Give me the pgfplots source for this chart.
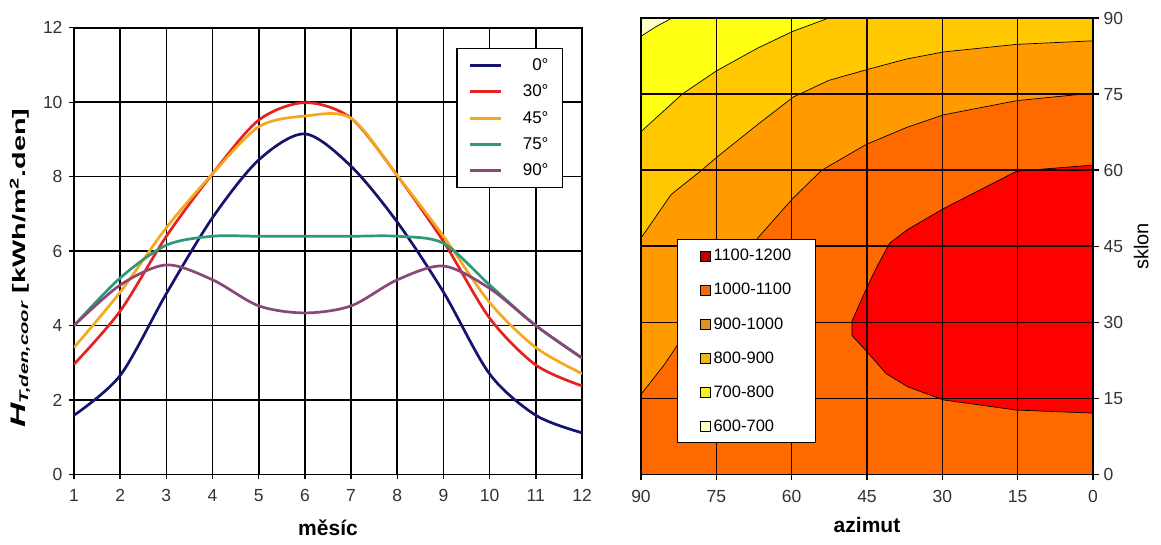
\documentclass[border=0pt]{standalone}
\usepackage{fontspec}
\setmainfont{Liberation Sans}
\usepackage{graphicx}
\usepackage{pgfplots}
\pgfplotsset{compat=1.18}

\definecolor{c0}{HTML}{14146E}
\definecolor{c30}{HTML}{E42320}
\definecolor{c45}{HTML}{F4A81E}
\definecolor{c75}{HTML}{2E9878}
\definecolor{c90}{HTML}{8A4878}
% contour bands
\definecolor{bsix}{HTML}{FFFFC8}
\definecolor{bseven}{HTML}{FFFF14}
\definecolor{beight}{HTML}{FFC800}
\definecolor{bnine}{HTML}{FF9A00}
\definecolor{bten}{HTML}{FF6A00}
\definecolor{beleven}{HTML}{FF0000}

\begin{document}
\begin{tikzpicture}
\path[use as bounding box] (0,0) rectangle (1161pt,545pt);

% ---- left: monthly irradiation
\begin{axis}[
    at={(74pt,70.5pt)}, anchor=south west,
    scale only axis, width=508pt, height=446.7pt,
    xmin=1, xmax=12, ymin=0, ymax=12,
    xtick={1,...,12}, ytick={0,2,...,12},
    grid=major, major grid style={black, line width=1.6pt},
    axis line style={black, line width=1.6pt},
    tick align=outside, major tick length=5pt,
    tick style={black, line width=1.4pt},
    xtick pos=bottom, ytick pos=left,
    /pgf/number format/assume math mode=true,
    tick label style={font=\fontsize{17.5}{19}\selectfont, text=black!80},
    xticklabel style={yshift=-6pt},
    yticklabel style={xshift=-3pt},
    xlabel={měsíc},
    xlabel style={yshift=-12pt, font=\fontsize{21}{23}\selectfont\bfseries},
    ylabel={\scalebox{1.6}[1]{{\fontsize{21}{22}\selectfont\itshape H}\textsubscript{\itshape T,den,coor} [kWh/m\textsuperscript{2}.den]}},
    ylabel style={yshift=6pt, xshift=-17pt, font=\fontsize{18}{20}\selectfont\bfseries},
    legend cell align=right,
    legend image code/.code={\draw[#1, line width=3pt] (0pt,0pt) -- (31pt,0pt);},
    legend style={at={(0.963,0.955)}, anchor=north east, draw=black, line width=1.4pt,
        font=\fontsize{17}{19}\selectfont, row sep=9pt, column sep=18pt,
        inner xsep=12pt, inner ysep=8pt},
]
\addplot[c0, line width=2.7pt, smooth] coordinates {
(1,1.59) (2,2.66) (3,4.86) (4,6.9) (5,8.45) (6,9.15) (7,8.28) (8,6.78) (9,4.9) (10,2.7) (11,1.59) (12,1.12)};
\addplot[c30, line width=2.7pt, smooth] coordinates {
(1,2.96) (2,4.39) (3,6.4) (4,8.08) (5,9.52) (6,9.99) (7,9.57) (8,8.03) (9,6.26) (10,4.2) (11,2.94) (12,2.38)};
\addplot[c45, line width=2.7pt, smooth] coordinates {
(1,3.41) (2,4.9) (3,6.63) (4,8.08) (5,9.34) (6,9.63) (7,9.57) (8,8.03) (9,6.4) (10,4.62) (11,3.41) (12,2.71)};
\addplot[c75, line width=2.7pt, smooth] coordinates {
(1,4.0) (2,5.28) (3,6.16) (4,6.4) (5,6.4) (6,6.4) (7,6.4) (8,6.4) (9,6.21) (10,5.09) (11,4.0) (12,3.13)};
\addplot[c90, line width=2.7pt, smooth] coordinates {
(1,4.0) (2,5.09) (3,5.63) (4,5.23) (5,4.53) (6,4.34) (7,4.53) (8,5.23) (9,5.6) (10,5.0) (11,4.0) (12,3.13)};
\legend{0°,30°,45°,75°,90°}
\end{axis}

% ---- right: annual irradiation vs azimuth and slope
\begin{axis}[
    at={(641pt,70.5pt)}, anchor=south west,
    scale only axis, width=452pt, height=456.5pt,
    xmin=0, xmax=90, ymin=0, ymax=90, x dir=reverse,
    xtick={0,15,...,90}, ytick={0,15,...,90},
    yticklabel pos=right, ytick pos=right, xtick pos=bottom,
    axis on top,
    grid=major, major grid style={black!90!red, line width=1.6pt},
    axis line style={black, line width=1.4pt},
    tick align=outside, major tick length=6pt,
    tick style={black, line width=1.4pt},
    /pgf/number format/assume math mode=true,
    tick label style={font=\fontsize{17.5}{19}\selectfont, text=black!80},
    xticklabel style={yshift=-6pt},
    yticklabel style={xshift=1pt},
    xlabel={azimut},
    xlabel style={yshift=-8pt, font=\fontsize{21}{23}\selectfont\bfseries},
    ylabel={sklon},
    ylabel style={yshift=-4pt, font=\fontsize{20}{22}\selectfont},
    legend cell align=left,
    legend image code/.code={\draw[#1, draw=black, line width=0.9pt] (0pt,-5pt) rectangle (10pt,5pt);},
    legend style={at={(0.080,0.516)}, anchor=north west, draw=black, line width=1pt, fill=white,
        font=\fontsize{16.5}{18}\selectfont, row sep=17pt, column sep=1pt,
        inner xsep=22pt, inner ysep=8pt},
]
\addlegendimage{fill=beleven!75!black}
\addlegendentry{1100-1200}
\addlegendimage{fill=bten!85!gray}
\addlegendentry{1000-1100}
\addlegendimage{fill=bnine!75!gray}
\addlegendentry{900-1000}
\addlegendimage{fill=beight!80!gray}
\addlegendentry{800-900}
\addlegendimage{fill=bseven!90!gray}
\addlegendentry{700-800}
\addlegendimage{fill=bsix}
\addlegendentry{600-700}

\addplot[fill=bten, draw=none, forget plot] coordinates {(0,0) (90,0) (90,90) (0,90)} -- cycle;
\addplot[fill=bnine, draw=none, forget plot] coordinates {
(90,15.8) (85.4,21.6) (79.7,30) (75.1,35.3) (68.3,44.9) (59.7,54.5) (54.0,60.0) (45.1,65.1)
(36.9,68.5) (29.8,70.9) (15.2,73.7) (0,75.2) (0,90) (90,90)} -- cycle;
\addplot[fill=beight, draw=none, forget plot] coordinates {
(90,46.6) (84,55.2) (77.9,60) (75.1,62.4) (66.9,68.9) (59.7,74.4) (52.6,77.7) (45.1,79.8)
(37.2,81.9) (29.8,83.3) (15.2,84.8) (0,85.5) (0,90) (90,90)} -- cycle;
\addplot[fill=bseven, draw=none, forget plot] coordinates {
(90,67.6) (84,73.0) (81.8,75) (75.1,79.5) (66.9,84.0) (59.7,87.4) (52.6,90) (90,90)} -- cycle;
\addplot[fill=bsix, draw=none, forget plot] coordinates {
(90,86.4) (87,88.3) (83.8,90) (90,90)} -- cycle;
\addplot[fill=beleven, draw=none, forget plot] coordinates {
(0,61.0) (15.2,59.8) (29.8,52.4) (36.9,48.3) (40.5,45.6) (43,41) (45.1,36.7) (48.0,30.2)
(48.0,27.4) (45.1,24.3) (41.2,19.9) (36.9,17.3) (29.8,14.7) (15.2,12.7) (0,12.1)} -- cycle;

% contour lines
\addplot[black, line width=0.7pt, forget plot] coordinates {(90,86.4) (87,88.3) (83.8,90)};
\addplot[black, line width=0.7pt, forget plot] coordinates {
(90,67.6) (84,73.0) (81.8,75) (75.1,79.5) (66.9,84.0) (59.7,87.4) (52.6,90)};
\addplot[black, line width=0.7pt, forget plot] coordinates {
(90,46.6) (84,55.2) (77.9,60) (75.1,62.4) (66.9,68.9) (59.7,74.4) (52.6,77.7) (45.1,79.8)
(37.2,81.9) (29.8,83.3) (15.2,84.8) (0,85.5)};
\addplot[black, line width=0.7pt, forget plot] coordinates {
(90,15.8) (85.4,21.6) (79.7,30) (75.1,35.3) (68.3,44.9) (59.7,54.5) (54.0,60.0) (45.1,65.1)
(36.9,68.5) (29.8,70.9) (15.2,73.7) (0,75.2)};
\addplot[black, line width=0.7pt, forget plot] coordinates {
(0,61.0) (15.2,59.8) (29.8,52.4) (36.9,48.3) (40.5,45.6) (43,41) (45.1,36.7) (48.0,30.2)
(48.0,27.4) (45.1,24.3) (41.2,19.9) (36.9,17.3) (29.8,14.7) (15.2,12.7) (0,12.1)};
\end{axis}
\end{tikzpicture}
\end{document}
